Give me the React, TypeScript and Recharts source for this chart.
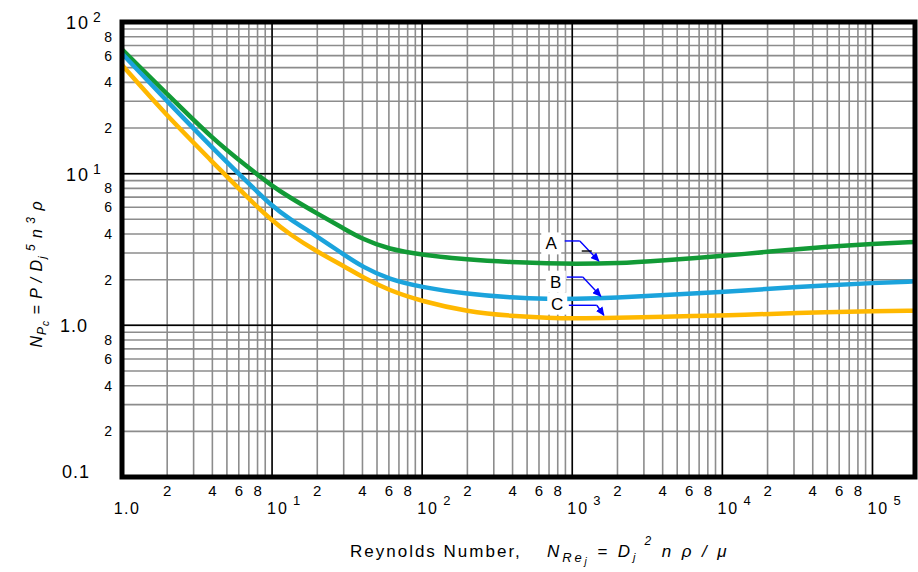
import React from "react";
import {
  LineChart,
  Line,
  XAxis,
  YAxis,
  CartesianGrid,
  ReferenceLine,
  ReferenceArea,
  ReferenceDot,
} from "recharts";

// ---- data ----
const reynolds = [1, 2, 4, 7, 10, 13, 20, 30, 40, 60, 100, 200, 400, 700, 1000, 2000, 4000, 10000, 20000, 50000, 100000, 192000];
const curveA = [66, 33.5, 17.0, 10.9, 8.3, 7.0, 5.45, 4.35, 3.7, 3.17, 2.92, 2.71, 2.61, 2.56, 2.54, 2.56, 2.68, 2.86, 3.06, 3.3, 3.44, 3.55];
const curveB = [62, 30.0, 14.8, 8.6, 6.1, 5.05, 3.85, 2.93, 2.43, 2.01, 1.78, 1.61, 1.52, 1.49, 1.49, 1.52, 1.58, 1.66, 1.74, 1.84, 1.9, 1.95];
const curveC = [52, 23.9, 12.0, 6.8, 4.9, 4.0, 3.05, 2.46, 2.08, 1.7, 1.44, 1.23, 1.15, 1.12, 1.11, 1.12, 1.14, 1.16, 1.19, 1.22, 1.24, 1.25];

const curveNames = ["A", "B", "C"];
const curveColors = ["#129a36", "#1ba3dc", "#ffb800"];

// label anchor points (data space)
const labelX = [724, 776, 794];
const labelY = [3.47, 1.94, 1.39];
// arrow polylines (data space)
const arrowX = [
  [891, 1122, 1503],
  [919, 1175, 1549],
  [948, 1456, 1622],
];
const arrowY = [
  [3.6, 3.6, 2.65],
  [2.08, 2.08, 1.556],
  [1.356, 1.356, 1.165],
];
const dashX = [1156, 1349];
const dashY = 3.09;

// axes
const mantissas = [1, 2, 3, 4, 5, 6, 7, 8, 9];
const labeledMantissas = [2, 4, 6, 8];
const xDecades = [1, 10, 100, 1000, 10000];
const yDecades = [0.1, 1, 10];
const xMax = 100000;
const yMax = 100;
const xDomain = [1, 192000];
const yDomain = [0.1, 100];
const xDecadeLines = [10, 100, 1000, 10000, 100000];
const yDecadeLines = [1, 10];

const xTicks = [...xDecades.flatMap((d) => mantissas.map((m) => +(m * d).toPrecision(3))), xMax];
const yTicks = [...yDecades.flatMap((d) => mantissas.map((m) => +(m * d).toPrecision(3))), yMax];

const toSeries = (ys: number[]) => reynolds.map((x, i) => ({ x, y: ys[i] }));
const series = [curveA, curveB, curveC].map(toSeries);

const FONT = "'Liberation Sans', Arial, sans-serif";

const decompose = (v: number) => {
  const e = Math.floor(Math.log10(v) + 1e-9);
  const m = Math.round(v / Math.pow(10, e));
  return { e, m };
};

const XTick = (props: any) => {
  const { x, y, payload } = props;
  const v = payload.value;
  const { e, m } = decompose(v);
  if (v === 1)
    return (
      <text x={x + 5} y={y + 37} textAnchor="middle" fontSize={16} fontFamily={FONT} letterSpacing={1.5} fill="#000">
        1.0
      </text>
    );
  if (m === 1)
    return (
      <g>
        <text x={x - 5} y={y + 37} fontSize={16} fontFamily={FONT} letterSpacing={2} fill="#000">
          10
        </text>
        <text x={x + 21} y={y + 28} fontSize={13} fontFamily={FONT} fill="#000">
          {e}
        </text>
      </g>
    );
  if (labeledMantissas.includes(m))
    return (
      <text x={x} y={y + 19} textAnchor="middle" fontSize={15} fontFamily={FONT} fill="#000">
        {m}
      </text>
    );
  return <g />;
};

const YTick = (props: any) => {
  const { x, y, payload } = props;
  const v = payload.value;
  const { e, m } = decompose(v);
  if (v === 0.1)
    return (
      <text x={x - 32} y={y + 1} textAnchor="end" fontSize={18} fontFamily={FONT} letterSpacing={1} fill="#000">
        0.1
      </text>
    );
  if (v === 1)
    return (
      <text x={x - 34} y={y + 7} textAnchor="end" fontSize={18} fontFamily={FONT} letterSpacing={1} fill="#000">
        1.0
      </text>
    );
  if (m === 1)
    return (
      <g>
        <text x={x - 32} y={y + 7} textAnchor="end" fontSize={18} fontFamily={FONT} letterSpacing={2} fill="#000">
          10
        </text>
        <text x={x - 29} y={y} fontSize={14} fontFamily={FONT} fill="#000">
          {e}
        </text>
      </g>
    );
  if (labeledMantissas.includes(m))
    return (
      <text x={x - 10} y={y + 5} textAnchor="end" fontSize={14} fontFamily={FONT} fill="#000">
        {m}
      </text>
    );
  return <g />;
};

const LabelShape = (text: string) => (props: any) => {
  const { cx, cy } = props;
  return (
    <g>
      <rect x={cx - 10} y={cy - 11} width={20} height={22} fill="#fff" />
      <text x={cx} y={cy + 6} textAnchor="middle" fontSize={17} fontFamily={FONT} fill="#000">
        {text}
      </text>
    </g>
  );
};

const segShape = (withHead: boolean, color: string) => (props: any) => (
  <line
    x1={props.x1}
    y1={props.y1}
    x2={props.x2}
    y2={props.y2}
    stroke={color}
    strokeWidth={1.4}
    markerEnd={withHead ? "url(#arrowHead)" : undefined}
  />
);

export default function App() {
  return (
    <div style={{ position: "absolute", left: 0, top: 0, width: 918, height: 572, background: "#fff" }}>
      <LineChart width={918} height={572} margin={{ top: 22, right: 3, bottom: 0, left: 0 }}>
        <CartesianGrid stroke="#8c8c8c" strokeWidth={1.6} />
        <XAxis
          dataKey="x"
          type="number"
          scale="log"
          domain={xDomain}
          allowDataOverflow
          ticks={xTicks}
          interval={0}
          height={95}
          axisLine={false}
          tickLine={false}
          tickSize={0}
          tickMargin={0}
          tick={XTick}
        />
        <YAxis
          type="number"
          scale="log"
          domain={yDomain}
          allowDataOverflow
          ticks={yTicks}
          interval={0}
          width={122}
          axisLine={false}
          tickLine={false}
          tickSize={0}
          tickMargin={0}
          tick={YTick}
        />
        {xDecadeLines.map((v) => (
          <ReferenceLine key={"xd" + v} x={v} stroke="#000" strokeWidth={1.5} />
        ))}
        {yDecadeLines.map((v) => (
          <ReferenceLine key={"yd" + v} y={v} stroke="#000" strokeWidth={1.5} />
        ))}
        {series.map((d, i) => (
          <Line
            key={curveNames[i]}
            data={d}
            dataKey="y"
            type="basis"
            stroke={curveColors[i]}
            strokeWidth={4.5}
            dot={false}
            activeDot={false}
            isAnimationActive={false}
          />
        ))}
        {arrowX.flatMap((xs, i) =>
          xs.slice(1).map((xv, j) => (
            <ReferenceLine
              key={"ar" + i + "-" + j}
              segment={[
                { x: xs[j], y: arrowY[i][j] },
                { x: xv, y: arrowY[i][j + 1] },
              ]}
              shape={segShape(j === xs.length - 2, "#0000ff")}
              zIndex={1500}
            />
          ))
        )}
        <ReferenceLine
          segment={[
            { x: dashX[0], y: dashY },
            { x: dashX[1], y: dashY },
          ]}
          shape={segShape(false, "#000")}
          zIndex={1500}
        />
        {curveNames.map((n, i) => (
          <ReferenceDot key={"lb" + n} x={labelX[i]} y={labelY[i]} r={1} shape={LabelShape(n)} zIndex={1500} />
        ))}
        <ReferenceArea
          x1={xDomain[0]}
          x2={xDomain[1]}
          y1={yDomain[0]}
          y2={yDomain[1]}
          fill="none"
          fillOpacity={0}
          stroke="#000"
          strokeWidth={5}
          zIndex={1600}
        />
      </LineChart>
      <svg
        width={918}
        height={572}
        style={{ position: "absolute", left: 0, top: 0, pointerEvents: "none" }}
      >
        <defs>
          <marker
            id="arrowHead"
            markerUnits="userSpaceOnUse"
            markerWidth={9}
            markerHeight={8}
            refX={8}
            refY={4}
            orient="auto"
          >
            <path d="M0,0 L9,4 L0,8 z" fill="#0000ff" />
          </marker>
        </defs>
        <text
          transform="translate(42,274) rotate(-90)"
          textAnchor="middle"
          fontSize={16}
          fontStyle="italic"
          fontFamily={FONT}
          letterSpacing={1}
          fill="#000"
        >
          N<tspan dy={4} fontSize={12}>P</tspan>
          <tspan dy={3} fontSize={10}>c</tspan>
          <tspan dy={-7}> = P / D</tspan>
          <tspan dy={4} fontSize={11}>j</tspan>
          <tspan dy={-11} fontSize={12}> 5</tspan>
          <tspan dy={7}> n</tspan>
          <tspan dy={-7} fontSize={12}> 3</tspan>
          <tspan dy={7}> ρ</tspan>
        </text>
        <text x={350} y={557} fontSize={17} fontFamily={FONT} letterSpacing={2} fill="#000">
          Reynolds Number,
        </text>
        <text x={547} y={557} fontSize={17} fontStyle="italic" fontFamily={FONT} letterSpacing={2.9} fill="#000">
          N<tspan dy={5} fontSize={13}>Re</tspan>
          <tspan dy={3} fontSize={10}>j</tspan>
          <tspan dy={-8}> = D</tspan>
          <tspan dy={4} fontSize={11}>j</tspan>
          <tspan dy={-16} fontSize={12}> 2</tspan>
          <tspan dy={12}> n ρ / μ</tspan>
        </text>
      </svg>
    </div>
  );
}
